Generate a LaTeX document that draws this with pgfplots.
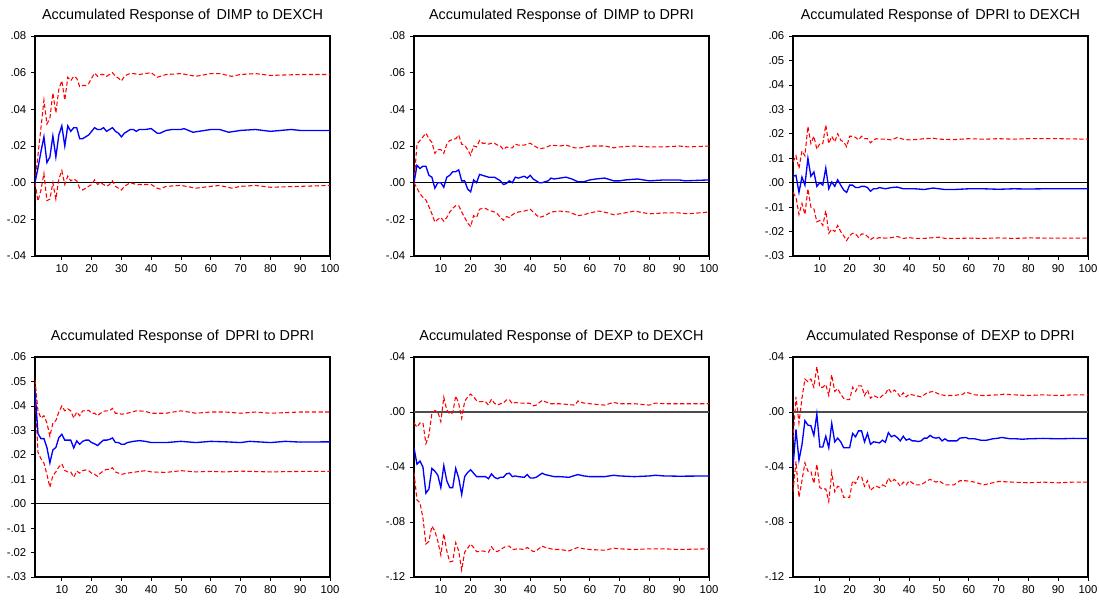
\documentclass[border=0pt]{standalone}
\usepackage{fontspec}
\setmainfont{Liberation Sans}
\usepackage{pgfplots}
\pgfplotsset{compat=1.18}

\definecolor{irfblue}{RGB}{0,0,255}
\definecolor{irfred}{RGB}{255,0,0}

\pgfplotsset{
  irf/.style={
    scale only axis,
    width=221.25pt, height=165pt,
    anchor=south west,
    xmin=1, xmax=100,
    xtick={10,20,...,100},
    scaled y ticks=false,
    tick align=outside,
    xtick pos=bottom, ytick pos=left,
    major tick length=3pt,
    tick style={black, line width=0.6pt},
    axis line style={black, line width=0.9pt},
    tick label style={font=\fontsize{8.5}{10}\selectfont},
    /pgf/number format/assume math mode=true,
    title style={font=\fontsize{10.8}{12}\selectfont, anchor=base, at={(0.5,1)}, yshift=6.5pt},
    clip=true,
  },
  mid/.style={irfblue, line width=1pt},
  band/.style={irfred, line width=0.8pt, dash pattern=on 3.2pt off 1.8pt},
  zero/.style={black, line width=0.6pt},
}

\begin{document}
\begin{tikzpicture}
\path[use as bounding box] (0,0) rectangle (824.25pt,-450pt);

% ---------- DIMP to DEXCH ----------
\begin{axis}[irf, at={(26.25pt,-192pt)},
  title={Accumulated Response of\, DIMP to DEXCH},
  ymin=-0.04, ymax=0.08, ytick={-0.04,-0.02,0,0.02,0.04,0.06,0.08},
  yticklabels={-.04,-.02,.00,.02,.04,.06,.08}]
\addplot[zero] coordinates {(1,0) (100,0)};
\addplot[band] coordinates {(1,0.000)(2,0.015)(3,0.030)(4,0.045)(5,0.032)(6,0.035)(7,0.049)(8,0.038)(9,0.051)(10,0.0556)(11,0.045)(12,0.0575)(13,0.0556)(14,0.058)(15,0.057)(16,0.0524)(17,0.053)(18,0.053)(19,0.054)(20,0.057)(21,0.0597)(22,0.058)(23,0.059)(24,0.059)(25,0.058)(26,0.059)(27,0.060)(28,0.058)(29,0.057)(30,0.0555)(31,0.058)(32,0.059)(33,0.0595)(34,0.0595)(36,0.059)(38,0.0595)(40,0.060)(42,0.0575)(45,0.059)(50,0.0595)(55,0.058)(60,0.0595)(63,0.0595)(67,0.058)(70,0.059)(75,0.0595)(80,0.0585)(90,0.059)(100,0.059)};
\addplot[band] coordinates {(1,0.000)(2,-0.010)(3,-0.004)(4,0.005)(5,-0.0098)(6,-0.009)(7,0.000)(8,-0.009)(9,0.002)(10,0.0066)(11,-0.001)(12,0.0036)(13,0.001)(14,0.002)(15,0.001)(16,-0.003)(17,-0.004)(18,-0.003)(19,-0.002)(20,-0.001)(21,0.0015)(22,-0.001)(23,0.000)(24,-0.001)(25,-0.002)(26,-0.001)(27,0.001)(28,-0.002)(29,-0.003)(30,-0.004)(31,-0.002)(32,-0.001)(33,0.000)(34,-0.0005)(35,-0.001)(37,-0.001)(40,-0.001)(42,-0.003)(43,-0.0035)(45,-0.002)(50,-0.0015)(55,-0.003)(60,-0.002)(63,-0.0015)(67,-0.003)(70,-0.002)(75,-0.0015)(80,-0.0025)(90,-0.002)(100,-0.0015)};
\addplot[mid] coordinates {(1,0.000)(2,0.008)(3,0.017)(4,0.025)(5,0.011)(6,0.014)(7,0.0255)(8,0.014)(9,0.026)(10,0.031)(11,0.020)(12,0.031)(13,0.028)(14,0.030)(15,0.030)(16,0.024)(17,0.024)(18,0.025)(19,0.026)(20,0.028)(21,0.030)(22,0.029)(23,0.029)(24,0.030)(25,0.028)(26,0.029)(27,0.030)(28,0.028)(29,0.027)(30,0.025)(31,0.027)(32,0.028)(33,0.029)(34,0.029)(35,0.028)(36,0.029)(37,0.029)(38,0.029)(40,0.0295)(42,0.027)(43,0.027)(45,0.0285)(47,0.029)(50,0.029)(51,0.0295)(54,0.0275)(56,0.028)(60,0.029)(63,0.029)(66,0.0275)(70,0.0285)(75,0.029)(80,0.028)(87,0.029)(90,0.0285)(100,0.0285)};
\end{axis}

% ---------- DIMP to DPRI ----------
\begin{axis}[irf, at={(310.5pt,-192pt)},
  title={Accumulated Response of\, DIMP to DPRI},
  ymin=-0.04, ymax=0.08, ytick={-0.04,-0.02,0,0.02,0.04,0.06,0.08},
  yticklabels={-.04,-.02,.00,.02,.04,.06,.08}]
\addplot[zero] coordinates {(1,0) (100,0)};
\addplot[band] coordinates {(1,0.000)(2,0.021)(3,0.023)(4,0.025)(5,0.027)(6,0.024)(7,0.022)(8,0.016)(9,0.018)(10,0.018)(11,0.016)(12,0.021)(13,0.023)(14,0.0235)(15,0.024)(16,0.026)(17,0.021)(18,0.0205)(19,0.018)(20,0.015)(21,0.020)(22,0.0195)(23,0.023)(24,0.0215)(25,0.0215)(26,0.021)(27,0.0215)(28,0.0215)(29,0.0205)(30,0.020)(31,0.018)(32,0.0195)(33,0.019)(34,0.019)(35,0.021)(36,0.0205)(38,0.0205)(40,0.0215)(42,0.0195)(43,0.0185)(45,0.019)(47,0.0205)(50,0.020)(52,0.0205)(55,0.019)(57,0.019)(60,0.020)(63,0.020)(65,0.020)(68,0.019)(70,0.0195)(75,0.020)(80,0.0195)(85,0.0195)(90,0.020)(93,0.0195)(100,0.020)};
\addplot[band] coordinates {(1,0.000)(2,-0.003)(3,-0.006)(4,-0.008)(5,-0.0095)(6,-0.013)(7,-0.017)(8,-0.0215)(9,-0.020)(10,-0.019)(11,-0.021)(12,-0.019)(13,-0.016)(14,-0.014)(15,-0.0125)(16,-0.0125)(17,-0.016)(18,-0.019)(19,-0.022)(20,-0.024)(21,-0.018)(22,-0.019)(23,-0.0145)(24,-0.014)(25,-0.014)(26,-0.015)(27,-0.0155)(28,-0.016)(29,-0.017)(30,-0.019)(31,-0.0205)(32,-0.0185)(33,-0.019)(34,-0.0175)(35,-0.0165)(36,-0.016)(38,-0.0155)(40,-0.0145)(41,-0.016)(43,-0.019)(45,-0.018)(47,-0.016)(50,-0.0155)(53,-0.016)(56,-0.018)(58,-0.0175)(60,-0.0165)(63,-0.0155)(66,-0.0165)(68,-0.0175)(70,-0.017)(75,-0.0155)(80,-0.017)(85,-0.0165)(90,-0.0165)(93,-0.017)(100,-0.016)};
\addplot[mid] coordinates {(1,0.000)(2,0.0095)(3,0.0077)(4,0.009)(5,0.009)(6,0.004)(7,0.003)(8,-0.003)(9,0.000)(10,0.000)(11,-0.0025)(12,0.003)(13,0.004)(14,0.006)(15,0.006)(16,0.007)(17,0.001)(18,0.001)(19,-0.0035)(20,-0.005)(21,0.0015)(22,0.000)(23,0.0045)(24,0.004)(25,0.0035)(26,0.003)(27,0.003)(28,0.003)(29,0.002)(30,0.001)(31,-0.001)(32,-0.0005)(33,0.001)(34,0.000)(35,0.003)(36,0.0025)(37,0.003)(38,0.0035)(39,0.0025)(40,0.004)(41,0.002)(42,0.001)(43,0.000)(44,0.000)(45,0.0005)(46,0.001)(47,0.0025)(48,0.002)(50,0.0025)(52,0.003)(54,0.002)(56,0.0005)(58,0.0005)(60,0.0015)(62,0.002)(65,0.0025)(68,0.001)(70,0.001)(72,0.0015)(76,0.002)(80,0.001)(85,0.0015)(90,0.0015)(92,0.001)(100,0.0015)};
\end{axis}

% ---------- DPRI to DEXCH ----------
\begin{axis}[irf, at={(594.75pt,-192pt)},
  title={Accumulated Response of\, DPRI to DEXCH},
  ymin=-0.03, ymax=0.06, ytick={-0.03,-0.02,...,0.06},
  yticklabels={-.03,-.02,-.01,.00,.01,.02,.03,.04,.05,.06}]
\addplot[zero] coordinates {(1,0) (100,0)};
\addplot[band] coordinates {(1,0.0085)(2,0.011)(3,0.0058)(4,0.013)(5,0.011)(6,0.023)(7,0.016)(8,0.019)(9,0.0137)(10,0.016)(11,0.016)(12,0.0236)(13,0.016)(14,0.019)(15,0.0167)(16,0.020)(17,0.0174)(18,0.0167)(19,0.0147)(20,0.019)(21,0.019)(22,0.0185)(23,0.0175)(24,0.019)(25,0.018)(26,0.018)(27,0.0163)(28,0.0175)(29,0.018)(30,0.0178)(32,0.0178)(34,0.0175)(36,0.0185)(38,0.0178)(40,0.0175)(42,0.0176)(45,0.018)(48,0.0182)(50,0.0178)(55,0.0176)(60,0.018)(65,0.0178)(70,0.018)(75,0.0178)(80,0.018)(90,0.018)(100,0.0178)};
\addplot[band] coordinates {(1,-0.004)(2,-0.006)(3,-0.013)(4,-0.0085)(5,-0.013)(6,-0.0025)(7,-0.010)(8,-0.0107)(9,-0.016)(10,-0.0155)(11,-0.0175)(12,-0.0115)(13,-0.0207)(14,-0.019)(15,-0.020)(16,-0.0175)(17,-0.020)(18,-0.0217)(19,-0.0237)(20,-0.0217)(21,-0.0207)(22,-0.021)(23,-0.0224)(24,-0.021)(25,-0.021)(26,-0.022)(27,-0.0233)(28,-0.0225)(29,-0.0228)(30,-0.0225)(32,-0.0227)(34,-0.0225)(36,-0.022)(38,-0.0228)(40,-0.0225)(42,-0.0228)(45,-0.0228)(48,-0.0225)(50,-0.0223)(52,-0.0228)(55,-0.0228)(60,-0.0227)(65,-0.0228)(70,-0.0226)(75,-0.0228)(80,-0.0226)(90,-0.0227)(100,-0.0227)};
\addplot[mid] coordinates {(1,0.0026)(2,0.003)(3,-0.004)(4,0.0023)(5,-0.001)(6,0.010)(7,0.0026)(8,0.0044)(9,-0.0015)(10,0.000)(11,-0.001)(12,0.006)(13,-0.0025)(14,0.0003)(15,-0.0015)(16,0.0012)(17,-0.001)(18,-0.003)(19,-0.004)(20,-0.001)(21,-0.001)(22,-0.002)(23,-0.002)(24,-0.0015)(25,-0.0015)(26,-0.002)(27,-0.0035)(28,-0.0025)(29,-0.0025)(30,-0.002)(32,-0.0025)(34,-0.002)(36,-0.0018)(38,-0.0025)(40,-0.0025)(42,-0.0025)(45,-0.0028)(48,-0.0022)(50,-0.0025)(52,-0.0028)(55,-0.0028)(60,-0.0025)(65,-0.0025)(70,-0.0027)(75,-0.0025)(80,-0.0026)(85,-0.0025)(90,-0.0025)(100,-0.0025)};
\end{axis}

% ---------- DPRI to DPRI ----------
\begin{axis}[irf, at={(26.25pt,-432.75pt)},
  title={Accumulated Response of\, DPRI to DPRI},
  ymin=-0.03, ymax=0.06, ytick={-0.03,-0.02,...,0.06},
  yticklabels={-.03,-.02,-.01,.00,.01,.02,.03,.04,.05,.06}]
\addplot[zero] coordinates {(1,0) (100,0)};
\addplot[band] coordinates {(1,0.0506)(2,0.038)(3,0.035)(4,0.036)(5,0.033)(6,0.0276)(7,0.033)(8,0.034)(9,0.0375)(10,0.040)(11,0.038)(12,0.0388)(13,0.038)(14,0.035)(15,0.0375)(16,0.036)(17,0.038)(18,0.038)(19,0.0382)(20,0.037)(21,0.037)(22,0.036)(23,0.037)(24,0.0378)(25,0.038)(26,0.038)(27,0.039)(28,0.037)(29,0.037)(30,0.0366)(32,0.037)(35,0.038)(38,0.0378)(40,0.037)(45,0.037)(50,0.038)(55,0.037)(60,0.0375)(65,0.0375)(70,0.037)(75,0.0375)(80,0.037)(90,0.0375)(100,0.0375)};
\addplot[band] coordinates {(1,0.0465)(2,0.021)(3,0.0184)(4,0.0166)(5,0.012)(6,0.0067)(7,0.0115)(8,0.013)(9,0.015)(10,0.0163)(11,0.0136)(12,0.013)(13,0.013)(14,0.0108)(15,0.0133)(16,0.0125)(17,0.0135)(18,0.0138)(19,0.0135)(20,0.0125)(21,0.012)(22,0.0112)(23,0.0125)(24,0.0135)(25,0.014)(26,0.014)(27,0.0147)(28,0.013)(29,0.0125)(30,0.012)(32,0.0125)(35,0.013)(38,0.0135)(40,0.013)(45,0.0128)(50,0.0135)(55,0.013)(60,0.0132)(65,0.013)(70,0.0133)(80,0.013)(90,0.0132)(100,0.0132)};
\addplot[mid] coordinates {(1,0.0465)(2,0.0287)(3,0.0266)(4,0.0266)(5,0.023)(6,0.0167)(7,0.022)(8,0.023)(9,0.027)(10,0.0284)(11,0.026)(12,0.026)(13,0.026)(14,0.0228)(15,0.0257)(16,0.0243)(17,0.0255)(18,0.026)(19,0.026)(20,0.025)(21,0.0245)(22,0.0238)(23,0.025)(24,0.026)(25,0.026)(26,0.0263)(27,0.0269)(28,0.025)(29,0.025)(30,0.0243)(31,0.0243)(32,0.025)(34,0.0255)(36,0.0258)(38,0.0255)(40,0.025)(45,0.025)(50,0.0255)(55,0.025)(60,0.0255)(65,0.0253)(70,0.025)(73,0.0255)(80,0.025)(85,0.0255)(90,0.0252)(100,0.0253)};
\end{axis}

% ---------- DEXP to DEXCH ----------
\begin{axis}[irf, at={(310.5pt,-432.75pt)},
  title={Accumulated Response of\, DEXP to DEXCH},
  ymin=-0.12, ymax=0.04, ytick={-0.12,-0.08,-0.04,0,0.04},
  yticklabels={-.12,-.08,-.04,.00,.04}]
\addplot[black!70, line width=0.8pt] coordinates {(1,0) (100,0)};
\addplot[band] coordinates {(1,-0.008)(2,-0.011)(3,-0.008)(4,-0.008)(5,-0.023)(6,-0.017)(7,-0.001)(8,0.001)(9,0.000)(10,-0.007)(11,0.0107)(12,0.0015)(13,-0.0015)(14,-0.0005)(15,0.0117)(16,0.0063)(17,-0.0046)(18,0.0076)(19,0.011)(20,0.013)(21,0.011)(22,0.0083)(23,0.0075)(24,0.0075)(25,0.0075)(26,0.005)(27,0.0093)(28,0.0063)(29,0.005)(30,0.006)(31,0.0065)(32,0.0088)(33,0.009)(34,0.006)(35,0.007)(36,0.0065)(38,0.0065)(40,0.0063)(41,0.0045)(42,0.005)(44,0.0085)(45,0.0075)(47,0.006)(50,0.006)(55,0.005)(56,0.008)(58,0.0065)(60,0.006)(65,0.005)(68,0.007)(70,0.006)(75,0.006)(80,0.005)(82,0.0065)(85,0.006)(90,0.006)(100,0.006)};
\addplot[band] coordinates {(1,-0.044)(2,-0.064)(3,-0.066)(4,-0.077)(5,-0.096)(6,-0.094)(7,-0.083)(8,-0.0865)(9,-0.094)(10,-0.104)(11,-0.0885)(12,-0.101)(13,-0.109)(14,-0.1085)(15,-0.095)(16,-0.101)(17,-0.115)(18,-0.102)(19,-0.099)(20,-0.096)(21,-0.0985)(22,-0.1015)(23,-0.1015)(24,-0.101)(25,-0.1015)(26,-0.102)(27,-0.098)(28,-0.101)(29,-0.1015)(30,-0.100)(32,-0.0975)(33,-0.0975)(34,-0.100)(36,-0.0995)(38,-0.100)(39,-0.0985)(41,-0.1015)(42,-0.101)(44,-0.0975)(45,-0.0985)(48,-0.100)(50,-0.100)(53,-0.101)(56,-0.0985)(58,-0.0995)(60,-0.100)(65,-0.1005)(68,-0.099)(70,-0.0995)(75,-0.100)(80,-0.0995)(85,-0.0995)(90,-0.100)(100,-0.0995)};
\addplot[mid] coordinates {(1,-0.026)(2,-0.038)(3,-0.0357)(4,-0.040)(5,-0.059)(6,-0.056)(7,-0.041)(8,-0.043)(9,-0.046)(10,-0.055)(11,-0.039)(12,-0.050)(13,-0.055)(14,-0.055)(15,-0.041)(16,-0.048)(17,-0.060)(18,-0.047)(19,-0.044)(20,-0.042)(21,-0.0445)(22,-0.047)(23,-0.047)(24,-0.047)(25,-0.047)(26,-0.0485)(27,-0.045)(28,-0.0475)(29,-0.0485)(30,-0.0475)(31,-0.0475)(32,-0.045)(33,-0.0445)(34,-0.047)(35,-0.0465)(36,-0.047)(38,-0.0475)(39,-0.0455)(40,-0.048)(41,-0.048)(42,-0.0475)(44,-0.0445)(45,-0.0455)(46,-0.046)(48,-0.047)(50,-0.047)(53,-0.0475)(56,-0.0455)(58,-0.0465)(60,-0.047)(65,-0.047)(68,-0.046)(70,-0.0465)(75,-0.047)(80,-0.0465)(82,-0.046)(85,-0.0465)(90,-0.0467)(100,-0.0465)};
\end{axis}

% ---------- DEXP to DPRI ----------
\begin{axis}[irf, at={(594.75pt,-432.75pt)},
  title={Accumulated Response of\, DEXP to DPRI},
  ymin=-0.12, ymax=0.04, ytick={-0.12,-0.08,-0.04,0,0.04},
  yticklabels={-.12,-.08,-.04,.00,.04}]
\addplot[black!70, line width=0.8pt] coordinates {(1,0) (100,0)};
\addplot[band] coordinates {(1,-0.020)(2,0.011)(3,-0.008)(4,0.010)(5,0.024)(6,0.022)(7,0.024)(8,0.018)(9,0.033)(10,0.018)(11,0.018)(12,0.020)(13,0.012)(14,0.027)(15,0.015)(16,0.017)(17,0.013)(18,0.010)(19,0.009)(20,0.009)(21,0.018)(22,0.015)(23,0.019)(24,0.019)(25,0.012)(26,0.016)(27,0.010)(28,0.012)(29,0.011)(30,0.010)(31,0.012)(32,0.013)(33,0.017)(34,0.014)(35,0.016)(36,0.014)(37,0.011)(38,0.014)(39,0.011)(40,0.013)(42,0.012)(44,0.011)(46,0.014)(48,0.015)(50,0.013)(52,0.012)(55,0.012)(58,0.013)(59,0.0145)(62,0.0125)(65,0.012)(70,0.0125)(72,0.013)(75,0.0125)(80,0.012)(85,0.0125)(90,0.012)(95,0.0125)(100,0.0125)};
\addplot[band] coordinates {(1,-0.058)(2,-0.036)(3,-0.062)(4,-0.050)(5,-0.037)(6,-0.043)(7,-0.043)(8,-0.052)(9,-0.038)(10,-0.055)(11,-0.056)(12,-0.056)(13,-0.065)(14,-0.044)(15,-0.058)(16,-0.054)(17,-0.055)(18,-0.062)(19,-0.062)(20,-0.062)(21,-0.050)(22,-0.052)(23,-0.047)(24,-0.047)(25,-0.054)(26,-0.050)(27,-0.057)(28,-0.055)(29,-0.054)(30,-0.055)(31,-0.053)(32,-0.054)(33,-0.048)(34,-0.051)(35,-0.049)(36,-0.051)(37,-0.054)(38,-0.051)(39,-0.053)(40,-0.050)(42,-0.053)(44,-0.053)(46,-0.050)(47,-0.049)(49,-0.051)(50,-0.050)(52,-0.053)(55,-0.053)(57,-0.050)(59,-0.050)(62,-0.051)(65,-0.053)(67,-0.052)(70,-0.0505)(75,-0.051)(80,-0.0515)(85,-0.051)(90,-0.0515)(95,-0.051)(100,-0.051)};
\addplot[mid] coordinates {(1,-0.040)(2,-0.0127)(3,-0.035)(4,-0.024)(5,-0.0063)(6,-0.0095)(7,-0.010)(8,-0.017)(9,-0.0015)(10,-0.0254)(11,-0.0254)(12,-0.0176)(13,-0.026)(14,-0.0083)(15,-0.0217)(16,-0.019)(17,-0.0217)(18,-0.026)(19,-0.026)(20,-0.026)(21,-0.0156)(22,-0.018)(23,-0.0137)(24,-0.0137)(25,-0.0217)(26,-0.0156)(27,-0.0235)(28,-0.0217)(29,-0.022)(30,-0.0225)(31,-0.0205)(32,-0.022)(33,-0.015)(34,-0.018)(35,-0.017)(36,-0.0186)(37,-0.021)(38,-0.0176)(39,-0.0205)(40,-0.0195)(41,-0.021)(42,-0.021)(43,-0.0215)(44,-0.021)(45,-0.019)(46,-0.019)(47,-0.017)(48,-0.0185)(49,-0.019)(50,-0.0185)(51,-0.021)(52,-0.0195)(53,-0.021)(55,-0.021)(56,-0.021)(57,-0.019)(59,-0.0185)(60,-0.0195)(62,-0.0195)(64,-0.0205)(66,-0.0205)(68,-0.0195)(70,-0.019)(71,-0.0185)(74,-0.0195)(76,-0.0195)(78,-0.0198)(80,-0.0195)(85,-0.0192)(90,-0.0195)(95,-0.0192)(100,-0.0193)};
\end{axis}
\end{tikzpicture}
\end{document}
